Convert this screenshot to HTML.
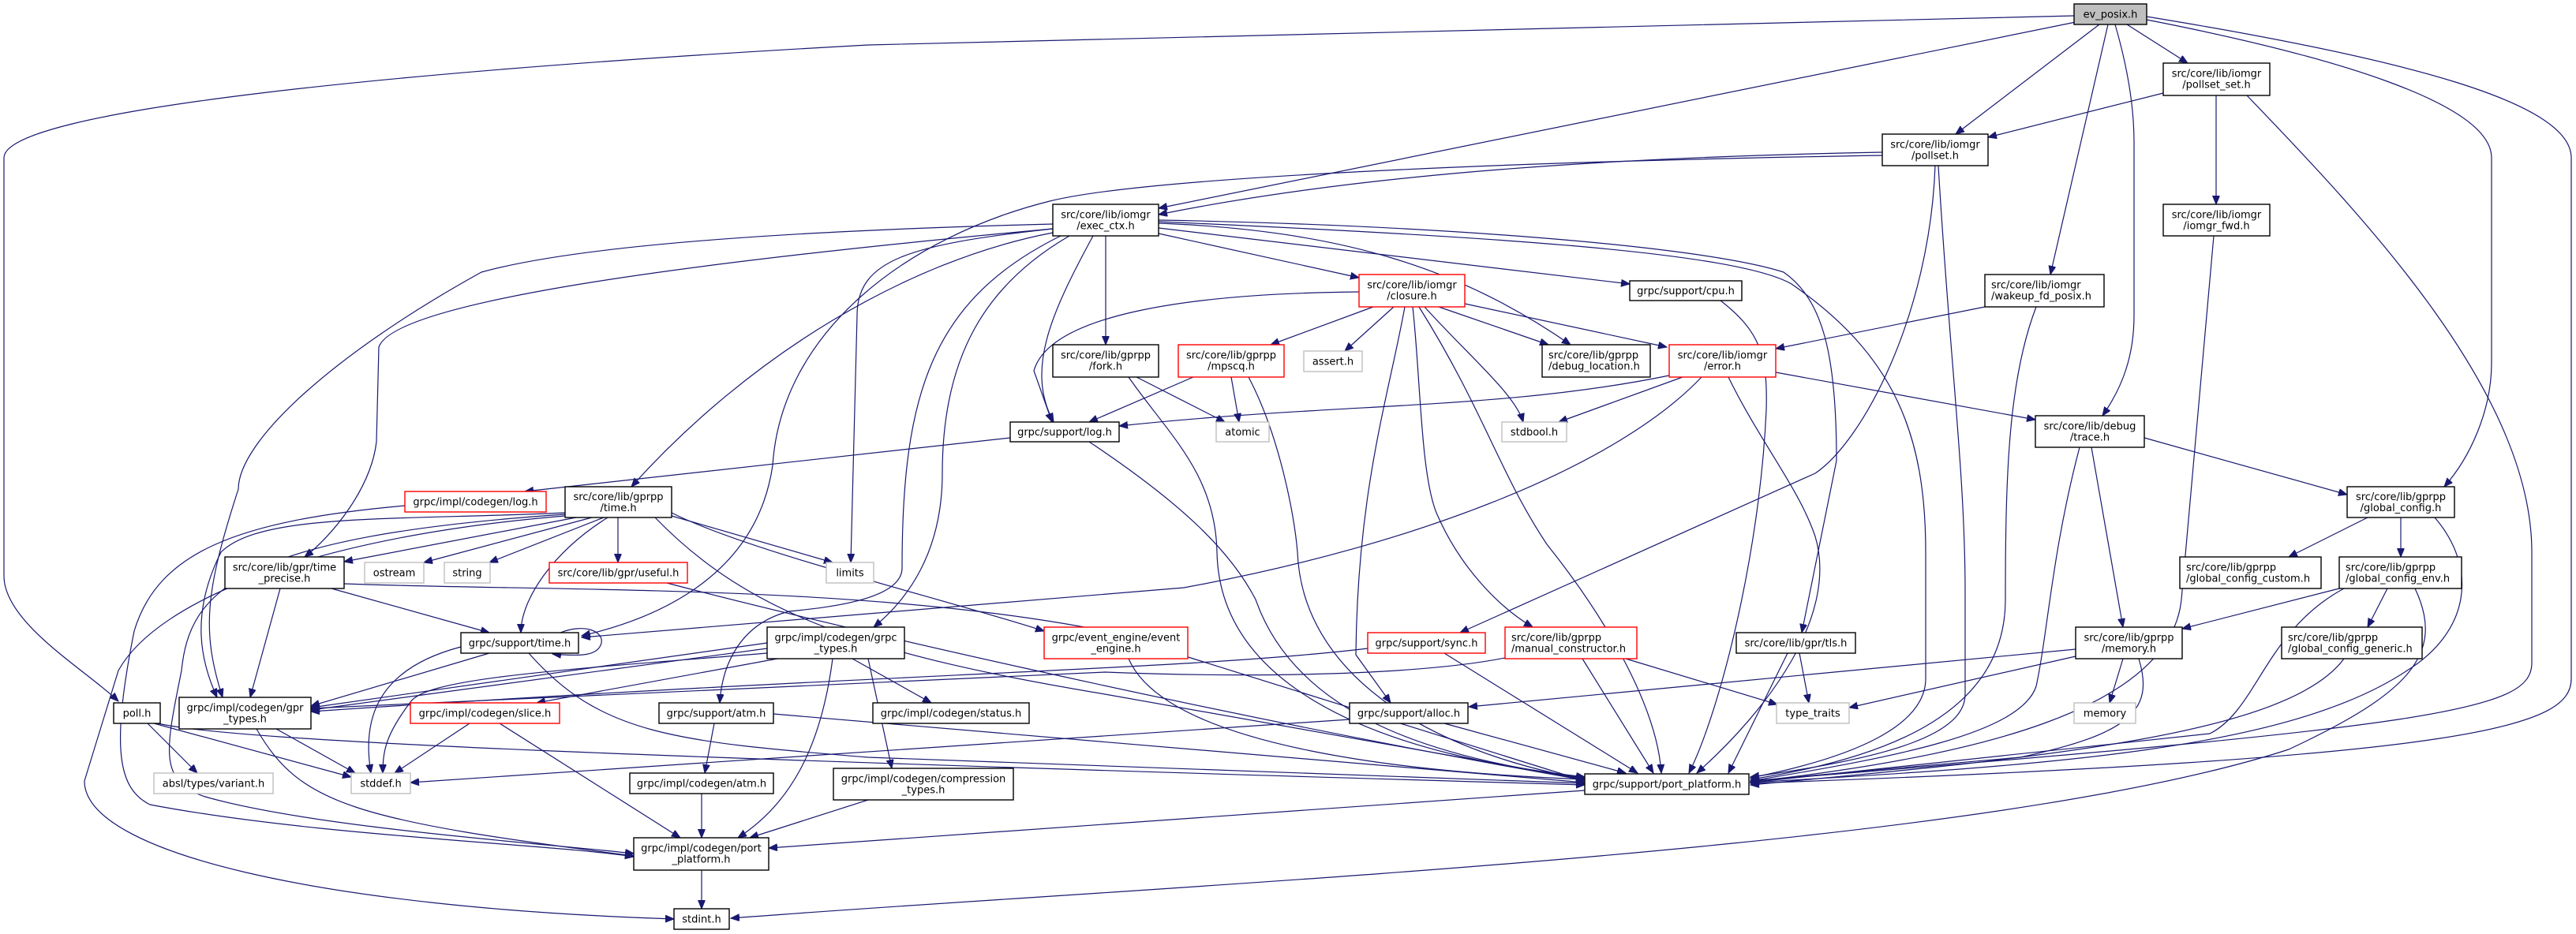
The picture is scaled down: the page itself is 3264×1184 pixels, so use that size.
<!DOCTYPE html>
<html><head><meta charset="utf-8"><style>
html,body{margin:0;padding:0;background:#fff;}
svg{display:block;}
text{font-family:"DejaVu Sans","Liberation Sans",sans-serif;font-size:13px;fill:#000;}
.e{fill:none;stroke:#191970;stroke-width:1.2;marker-end:url(#a);}
.n{fill:#fff;stroke:#000;stroke-width:1.4;}
.r{fill:#fff;stroke:#ff0000;stroke-width:1.4;}
.g{fill:#fff;stroke:#bfbfbf;stroke-width:1.4;}
</style></head><body>
<svg width="3264" height="1184" viewBox="0 0 3264 1184" xmlns="http://www.w3.org/2000/svg">
<defs><marker id="a" markerWidth="12" markerHeight="10" refX="11" refY="4.5" orient="auto" markerUnits="userSpaceOnUse"><path d="M0,0 L11,4.5 L0,9 z" fill="#191970" stroke="#191970"/></marker></defs>
<g>
<path class="e" d="M2628,20 C2000,35 1400,45 1100,57 C500,90 5,140 5,200 L5,730 C5,790 110,850 150,889"/>
<path class="e" d="M2630,28 L1468,264"/>
<path class="e" d="M2660,31 L2478,170"/>
<path class="e" d="M2695,31 L2772,80"/>
<path class="e" d="M2671,31 L2598,348"/>
<path class="e" d="M2680,31 C2700,100 2704,150 2704,180 L2704,400 C2704,450 2690,490 2664,527"/>
<path class="e" d="M2720,25 C2950,70 3157,130 3157,200 L3157,460 C3157,520 3130,580 3097,617"/>
<path class="e" d="M2720,21 C3050,75 3258,130 3258,200 L3258,860 C3258,920 3150,960 2218,993"/>
<path class="e" d="M2741,118 L2519,174"/>
<path class="e" d="M2808,121 L2808,259"/>
<path class="e" d="M2847,121 C3000,280 3208,500 3208,700 L3208,840 C3208,900 3100,920 2218,990"/>
<path class="e" d="M2805,299 L2764,760 C2750,900 2500,960 2218,991"/>
<path class="e" d="M2385,193 C2000,200 1700,225 1468,272"/>
<path class="e" d="M2385,197 C1900,205 1450,225 1330,255 C1150,300 990,420 979,590 C960,720 850,780 737,806"/>
<path class="e" d="M2452,210 C2445,400 2360,560 2300,600 L1850,802"/>
<path class="e" d="M2456,210 C2470,450 2490,600 2490,750 L2490,880 C2490,930 2400,960 2218,985"/>
<path class="e" d="M2515,389 L2250,442"/>
<path class="e" d="M2580,389 C2545,480 2541,600 2541,760 C2541,900 2400,960 2218,988"/>
<path class="e" d="M2717,555 L2974,627"/>
<path class="e" d="M2650,567 L2690,795"/>
<path class="e" d="M2635,567 C2600,700 2595,800 2580,870 C2560,930 2400,960 2218,990"/>
<path class="e" d="M2115,476 C1900,520 1700,510 1418,540"/>
<path class="e" d="M2132,478 L1975,535"/>
<path class="e" d="M2250,472 L2579,532"/>
<path class="e" d="M2190,478 C2230,560 2280,620 2300,680 C2330,780 2240,900 2150,980"/>
<path class="e" d="M2156,478 C2050,590 1800,690 1500,745 L737,808"/>
<path class="e" d="M1722,370 C1500,372 1330,400 1310,470 L1333,535"/>
<path class="e" d="M1740,389 L1610,437"/>
<path class="e" d="M1766,389 L1704,445"/>
<path class="e" d="M1823,389 L1962,437"/>
<path class="e" d="M1856,385 L2112,440"/>
<path class="e" d="M1805,389 C1860,450 1920,500 1930,535"/>
<path class="e" d="M1790,389 C1800,480 1800,600 1820,650 C1850,720 1900,770 1942,795"/>
<path class="e" d="M1780,389 C1760,500 1720,620 1718,830 L1762,891"/>
<path class="e" d="M1798,389 C1880,520 1900,600 1960,690 C2040,790 2100,900 2105,980"/>
<path class="e" d="M1468,296 L1722,352"/>
<path class="e" d="M1468,289 L2065,360"/>
<path class="e" d="M1468,283 C1700,292 1850,340 1990,437"/>
<path class="e" d="M1468,279 C1800,285 2150,310 2260,345 C2310,380 2327,450 2327,584 L2283,802"/>
<path class="e" d="M1468,281 C1900,300 2200,320 2270,360 C2400,450 2440,550 2440,700 L2440,860 C2440,920 2350,960 2218,986"/>
<path class="e" d="M2180,381 C2230,420 2240,450 2238,520 C2230,700 2180,900 2140,980"/>
<path class="e" d="M1401,299 L1401,437"/>
<path class="e" d="M1385,299 C1330,400 1300,470 1335,535"/>
<path class="e" d="M1334,290 C1150,310 1086,330 1086,400 L1078,713"/>
<path class="e" d="M1355,299 C1250,360 1194,450 1194,600 C1194,700 1150,760 1107,795"/>
<path class="e" d="M1344,299 C1180,380 1143,500 1143,720 C1143,760 1050,770 1000,775 C940,790 915,840 912,891"/>
<path class="e" d="M1334,284 C900,295 700,320 610,345 C420,450 302,560 302,620 C260,750 255,800 282,884"/>
<path class="e" d="M1334,290 C900,330 500,380 480,440 L477,560 C470,620 420,680 386,706"/>
<path class="e" d="M1334,295 C1150,330 950,450 800,617"/>
<path class="e" d="M730,656 L436,712"/>
<path class="e" d="M750,656 L537,713"/>
<path class="e" d="M765,656 L620,713"/>
<path class="e" d="M783,656 L783,713"/>
<path class="e" d="M851,654 L1055,713"/>
<path class="e" d="M770,656 C700,700 660,760 660,802"/>
<path class="e" d="M716,650 C500,660 330,650 280,700 C240,780 255,840 275,884"/>
<path class="e" d="M716,652 C300,680 240,750 230,850 C210,950 200,990 260,1010 C400,1050 700,1070 803,1082"/>
<path class="e" d="M851,650 C950,700 1200,760 1323,800"/>
<path class="e" d="M830,656 C950,780 1100,830 1400,880 L2008,988"/>
<path class="e" d="M716,654 C400,680 200,760 150,850 L107,990 C107,1080 400,1150 854,1165"/>
<path class="e" d="M513,641 C300,660 200,700 170,800 C140,950 150,1000 190,1020 C400,1060 700,1070 803,1086"/>
<path class="e" d="M355,746 L317,884"/>
<path class="e" d="M420,746 L620,802"/>
<path class="e" d="M436,740 C700,750 1100,740 1400,800 L2008,990"/>
<path class="e" d="M620,828 L394,895"/>
<path class="e" d="M584,820 C470,850 460,920 470,980"/>
<path class="e" d="M670,828 C760,930 850,940 1100,960 L2008,993"/>
<path class="e" d="M710,802 C740,790 765,800 762,815 C758,832 735,832 700,829"/>
<path class="e" d="M845,739 C1000,780 1500,900 2008,989"/>
<path class="e" d="M972,815 L394,897"/>
<path class="e" d="M972,822 L394,900"/>
<path class="e" d="M985,835 L680,891"/>
<path class="e" d="M1080,835 L1180,891"/>
<path class="e" d="M1100,835 L1130,974"/>
<path class="e" d="M1055,835 C1040,950 1000,1020 935,1062"/>
<path class="e" d="M972,828 C700,850 540,860 520,890 C490,930 485,950 485,980"/>
<path class="e" d="M350,924 L450,980"/>
<path class="e" d="M325,924 C380,1020 450,1040 803,1085"/>
<path class="e" d="M595,917 L500,980"/>
<path class="e" d="M633,917 L862,1062"/>
<path class="e" d="M187,917 L250,980"/>
<path class="e" d="M195,917 L445,985"/>
<path class="e" d="M200,917 C300,940 800,960 2008,995"/>
<path class="e" d="M905,917 L893,980"/>
<path class="e" d="M980,905 L2008,992"/>
<path class="e" d="M889,1006 L889,1062"/>
<path class="e" d="M1100,1014 L950,1062"/>
<path class="e" d="M2008,1002 L974,1075"/>
<path class="e" d="M1430,835 C1480,950 1800,980 2008,988"/>
<path class="e" d="M1733,822 C1500,850 1100,854 394,902"/>
<path class="e" d="M1830,828 L2075,980"/>
<path class="e" d="M1907,834 C1800,855 1600,860 1400,852 L394,898"/>
<path class="e" d="M2060,835 L2252,893"/>
<path class="e" d="M2005,835 L2095,980"/>
<path class="e" d="M1710,912 L520,992"/>
<path class="e" d="M1830,917 L2060,980"/>
<path class="e" d="M2280,828 L2292,891"/>
<path class="e" d="M2265,828 L2190,980"/>
<path class="e" d="M2630,823 L1861,896"/>
<path class="e" d="M2630,832 L2343,897"/>
<path class="e" d="M2690,835 L2673,891"/>
<path class="e" d="M2710,835 C2730,900 2700,930 2560,960 L2218,990"/>
<path class="e" d="M3000,656 L2900,706"/>
<path class="e" d="M3042,656 L3042,706"/>
<path class="e" d="M3085,656 C3140,720 3130,800 3050,850 C2900,950 2600,970 2218,992"/>
<path class="e" d="M2964,746 L2765,797"/>
<path class="e" d="M3025,746 L3000,795"/>
<path class="e" d="M2970,746 C2870,800 2860,900 2800,930 L2218,992"/>
<path class="e" d="M3060,746 C3100,830 3050,880 2900,950 C2500,1080 1500,1120 926,1164"/>
<path class="e" d="M2970,835 C2900,930 2600,960 2218,995"/>
<path class="e" d="M889,1103 L889,1152"/>
<path class="e" d="M1440,478 L1552,535"/>
<path class="e" d="M1430,478 C1480,550 1540,600 1542,700 C1545,850 1700,950 2008,985"/>
<path class="e" d="M1512,478 L1380,535"/>
<path class="e" d="M1560,478 L1570,535"/>
<path class="e" d="M1582,478 C1620,550 1640,650 1644,700 C1650,850 1800,950 2008,988"/>
<path class="e" d="M1280,555 L665,623"/>
<path class="e" d="M1380,560 C1500,640 1560,700 1591,760 C1640,900 1800,960 2008,986"/>
</g>
<g>
<rect x="2628" y="5" width="92" height="26" fill="#bfbfbf" stroke="#000" stroke-width="1.4"/><text x="2674" y="22.5" text-anchor="middle">ev_posix.h</text>
<rect class="n" x="2741" y="80" width="135" height="41"/><text x="2808.5" y="97.5" text-anchor="middle">src/core/lib/iomgr</text><text x="2808.5" y="111.5" text-anchor="middle">/pollset_set.h</text>
<rect class="n" x="2385" y="170" width="134" height="40"/><text x="2452" y="187.5" text-anchor="middle">src/core/lib/iomgr</text><text x="2452" y="201.5" text-anchor="middle">/pollset.h</text>
<rect class="n" x="1334" y="259" width="134" height="40"/><text x="1401" y="276.5" text-anchor="middle">src/core/lib/iomgr</text><text x="1401" y="290.5" text-anchor="middle">/exec_ctx.h</text>
<rect class="n" x="2741" y="259" width="135" height="40"/><text x="2808.5" y="276.5" text-anchor="middle">src/core/lib/iomgr</text><text x="2808.5" y="290.5" text-anchor="middle">/iomgr_fwd.h</text>
<rect class="r" x="1722" y="348" width="134" height="41"/><text x="1789" y="365.5" text-anchor="middle">src/core/lib/iomgr</text><text x="1789" y="379.5" text-anchor="middle">/closure.h</text>
<rect class="n" x="2065" y="356" width="142" height="25"/><text x="2136" y="373" text-anchor="middle">grpc/support/cpu.h</text>
<rect class="n" x="2515" y="348" width="151" height="41"/><text x="2523" y="365.5">src/core/lib/iomgr</text><text x="2523" y="379.5">/wakeup_fd_posix.h</text>
<rect class="n" x="1334" y="437" width="134" height="41"/><text x="1401" y="454.5" text-anchor="middle">src/core/lib/gprpp</text><text x="1401" y="468.5" text-anchor="middle">/fork.h</text>
<rect class="r" x="1493" y="437" width="134" height="41"/><text x="1560" y="454.5" text-anchor="middle">src/core/lib/gprpp</text><text x="1560" y="468.5" text-anchor="middle">/mpscq.h</text>
<rect class="g" x="1652" y="445" width="74" height="26"/><text x="1689" y="462.5" text-anchor="middle">assert.h</text>
<rect class="n" x="1954" y="437" width="137" height="41"/><text x="1962" y="454.5">src/core/lib/gprpp</text><text x="1962" y="468.5">/debug_location.h</text>
<rect class="r" x="2115" y="437" width="135" height="41"/><text x="2182.5" y="454.5" text-anchor="middle">src/core/lib/iomgr</text><text x="2182.5" y="468.5" text-anchor="middle">/error.h</text>
<rect class="n" x="1280" y="535" width="138" height="25"/><text x="1349" y="552" text-anchor="middle">grpc/support/log.h</text>
<rect class="g" x="1541" y="535" width="67" height="25"/><text x="1574.5" y="552" text-anchor="middle">atomic</text>
<rect class="g" x="1903" y="535" width="82" height="25"/><text x="1944" y="552" text-anchor="middle">stdbool.h</text>
<rect class="n" x="2579" y="527" width="138" height="40"/><text x="2648" y="544.5" text-anchor="middle">src/core/lib/debug</text><text x="2648" y="558.5" text-anchor="middle">/trace.h</text>
<rect class="r" x="513" y="623" width="179" height="26"/><text x="602.5" y="640.5" text-anchor="middle">grpc/impl/codegen/log.h</text>
<rect class="n" x="716" y="617" width="135" height="39"/><text x="783.5" y="634" text-anchor="middle">src/core/lib/gprpp</text><text x="783.5" y="648" text-anchor="middle">/time.h</text>
<rect class="n" x="2974" y="617" width="136" height="39"/><text x="3042" y="634" text-anchor="middle">src/core/lib/gprpp</text><text x="3042" y="648" text-anchor="middle">/global_config.h</text>
<rect class="n" x="285" y="706" width="151" height="40"/><text x="360.5" y="723.5" text-anchor="middle">src/core/lib/gpr/time</text><text x="360.5" y="737.5" text-anchor="middle">_precise.h</text>
<rect class="g" x="462" y="713" width="75" height="26"/><text x="499.5" y="730.5" text-anchor="middle">ostream</text>
<rect class="g" x="563" y="713" width="58" height="26"/><text x="592" y="730.5" text-anchor="middle">string</text>
<rect class="r" x="696" y="713" width="175" height="26"/><text x="783.5" y="730.5" text-anchor="middle">src/core/lib/gpr/useful.h</text>
<rect class="g" x="1047" y="713" width="60" height="26"/><text x="1077" y="730.5" text-anchor="middle">limits</text>
<rect class="n" x="2762" y="706" width="179" height="40"/><text x="2770" y="723.5">src/core/lib/gprpp</text><text x="2770" y="737.5">/global_config_custom.h</text>
<rect class="n" x="2964" y="706" width="155" height="40"/><text x="2972" y="723.5">src/core/lib/gprpp</text><text x="2972" y="737.5">/global_config_env.h</text>
<rect class="n" x="584" y="802" width="149" height="26"/><text x="658.5" y="819.5" text-anchor="middle">grpc/support/time.h</text>
<rect class="n" x="972" y="795" width="174" height="40"/><text x="1059" y="812.5" text-anchor="middle">grpc/impl/codegen/grpc</text><text x="1059" y="826.5" text-anchor="middle">_types.h</text>
<rect class="r" x="1323" y="795" width="182" height="40"/><text x="1414" y="812.5" text-anchor="middle">grpc/event_engine/event</text><text x="1414" y="826.5" text-anchor="middle">_engine.h</text>
<rect class="r" x="1733" y="802" width="149" height="26"/><text x="1807.5" y="819.5" text-anchor="middle">grpc/support/sync.h</text>
<rect class="r" x="1907" y="795" width="167" height="40"/><text x="1915" y="812.5">src/core/lib/gprpp</text><text x="1915" y="826.5">/manual_constructor.h</text>
<rect class="n" x="2200" y="802" width="151" height="26"/><text x="2275.5" y="819.5" text-anchor="middle">src/core/lib/gpr/tls.h</text>
<rect class="n" x="2630" y="795" width="135" height="40"/><text x="2697.5" y="812.5" text-anchor="middle">src/core/lib/gprpp</text><text x="2697.5" y="826.5" text-anchor="middle">/memory.h</text>
<rect class="n" x="2891" y="795" width="178" height="40"/><text x="2899" y="812.5">src/core/lib/gprpp</text><text x="2899" y="826.5">/global_config_generic.h</text>
<rect class="n" x="144" y="891" width="59" height="26"/><text x="173.5" y="908.5" text-anchor="middle">poll.h</text>
<rect class="n" x="227" y="884" width="167" height="40"/><text x="310.5" y="901.5" text-anchor="middle">grpc/impl/codegen/gpr</text><text x="310.5" y="915.5" text-anchor="middle">_types.h</text>
<rect class="r" x="520" y="891" width="189" height="26"/><text x="614.5" y="908.5" text-anchor="middle">grpc/impl/codegen/slice.h</text>
<rect class="n" x="835" y="891" width="145" height="26"/><text x="907.5" y="908.5" text-anchor="middle">grpc/support/atm.h</text>
<rect class="n" x="1106" y="891" width="198" height="26"/><text x="1205" y="908.5" text-anchor="middle">grpc/impl/codegen/status.h</text>
<rect class="n" x="1710" y="891" width="150" height="26"/><text x="1785" y="908.5" text-anchor="middle">grpc/support/alloc.h</text>
<rect class="g" x="2251" y="891" width="92" height="26"/><text x="2297" y="908.5" text-anchor="middle">type_traits</text>
<rect class="g" x="2628" y="891" width="78" height="26"/><text x="2667" y="908.5" text-anchor="middle">memory</text>
<rect class="g" x="195" y="980" width="151" height="26"/><text x="270.5" y="997.5" text-anchor="middle">absl/types/variant.h</text>
<rect class="g" x="445" y="980" width="75" height="26"/><text x="482.5" y="997.5" text-anchor="middle">stddef.h</text>
<rect class="n" x="798" y="980" width="182" height="26"/><text x="889" y="997.5" text-anchor="middle">grpc/impl/codegen/atm.h</text>
<rect class="n" x="1056" y="974" width="228" height="40"/><text x="1170" y="991.5" text-anchor="middle">grpc/impl/codegen/compression</text><text x="1170" y="1005.5" text-anchor="middle">_types.h</text>
<rect class="n" x="2008" y="981" width="208" height="26"/><text x="2112" y="998.5" text-anchor="middle">grpc/support/port_platform.h</text>
<rect class="n" x="803" y="1062" width="171" height="41"/><text x="888.5" y="1079.5" text-anchor="middle">grpc/impl/codegen/port</text><text x="888.5" y="1093.5" text-anchor="middle">_platform.h</text>
<rect class="n" x="854" y="1152" width="70" height="26"/><text x="889" y="1169.5" text-anchor="middle">stdint.h</text>
</g>
</svg>
</body></html>
